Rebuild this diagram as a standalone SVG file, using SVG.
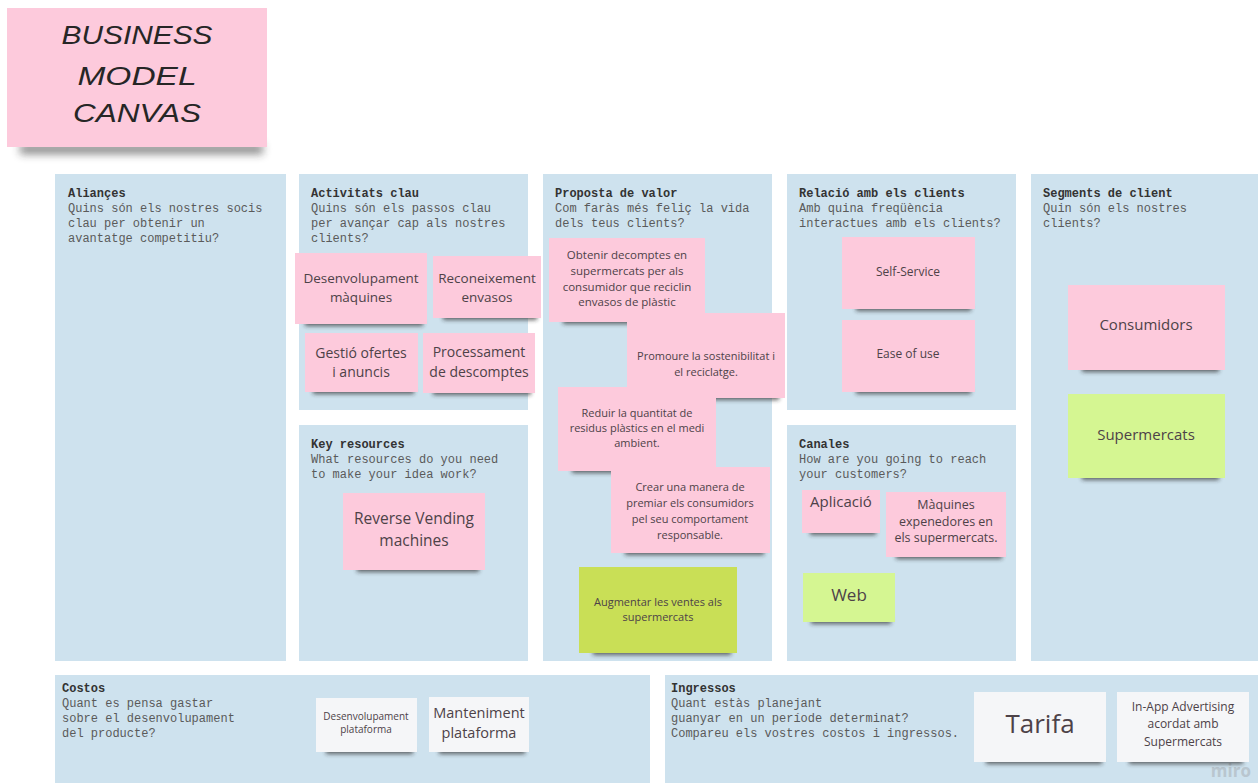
<svg xmlns="http://www.w3.org/2000/svg" width="1258" height="783" viewBox="0 0 1258 783">
<defs>
<filter id="blur" x="-20%" y="-200%" width="140%" height="500%"><feGaussianBlur stdDeviation="2"/></filter>
<filter id="blur2" x="-20%" y="-200%" width="140%" height="500%"><feGaussianBlur stdDeviation="4"/></filter>
</defs>
<style>
.panel{fill:#cee2ee}
.ph{font-family:"Liberation Mono","DejaVu Sans Mono",monospace;font-size:12px;font-weight:bold;fill:#333}
.pd{font-family:"Liberation Mono","DejaVu Sans Mono",monospace;font-size:12px;fill:#5a5a5a}
.sh{fill:#2b2b2b;opacity:.7;filter:url(#blur)}
.pink{fill:#fdcadc}
.green{fill:#d5f692}
.olive{fill:#c9df56}
.white{fill:#f5f6f8}
.st{font-family:"Open Sans","Noto Sans","Liberation Sans",sans-serif;fill:#4d4248;text-anchor:middle}
.title{font-family:"Liberation Sans",sans-serif;font-style:italic;font-size:25px;fill:#262626;text-anchor:middle}
</style>
<rect width="1258" height="783" fill="#ffffff"/>

<g id="title">
<rect x="20" y="144" width="243" height="10" fill="#2b2b2b" opacity=".55" filter="url(#blur2)"/>
<rect x="7" y="8" width="260" height="139" class="pink"/>
<text class="title" x="137" y="44" textLength="151" lengthAdjust="spacingAndGlyphs">BUSINESS</text>
<text class="title" x="137" y="85" textLength="119" lengthAdjust="spacingAndGlyphs">MODEL</text>
<text class="title" x="137" y="122" textLength="128" lengthAdjust="spacingAndGlyphs">CANVAS</text>
</g>

<g id="panel-aliances">
<rect class="panel" x="55" y="174" width="231" height="487"/>
<text class="ph" x="68" y="197">Aliançes</text>
<text class="pd" x="68" y="212">Quins són els nostres socis</text>
<text class="pd" x="68" y="227">clau per obtenir un</text>
<text class="pd" x="68" y="242">avantatge competitiu?</text>
</g>

<g id="panel-activitats">
<rect class="panel" x="299" y="174" width="229" height="236"/>
<text class="ph" x="311" y="197">Activitats clau</text>
<text class="pd" x="311" y="212">Quins són els passos clau</text>
<text class="pd" x="311" y="227">per avançar cap als nostres</text>
<text class="pd" x="311" y="242">clients?</text>
</g>

<g id="panel-resources">
<rect class="panel" x="299" y="425" width="229" height="236"/>
<text class="ph" x="311" y="448">Key resources</text>
<text class="pd" x="311" y="463">What resources do you need</text>
<text class="pd" x="311" y="478">to make your idea work?</text>
</g>

<g id="panel-proposta">
<rect class="panel" x="543" y="174" width="229" height="487"/>
<text class="ph" x="555" y="197">Proposta de valor</text>
<text class="pd" x="555" y="212">Com faràs més feliç la vida</text>
<text class="pd" x="555" y="227">dels teus clients?</text>
</g>

<g id="panel-relacio">
<rect class="panel" x="787" y="174" width="229" height="236"/>
<text class="ph" x="799" y="197">Relació amb els clients</text>
<text class="pd" x="799" y="212">Amb quina freqüència</text>
<text class="pd" x="799" y="227">interactues amb els clients?</text>
</g>

<g id="panel-canales">
<rect class="panel" x="787" y="425" width="229" height="236"/>
<text class="ph" x="799" y="448">Canales</text>
<text class="pd" x="799" y="463">How are you going to reach</text>
<text class="pd" x="799" y="478">your customers?</text>
</g>

<g id="panel-segments">
<rect class="panel" x="1031" y="174" width="227" height="487"/>
<text class="ph" x="1043" y="197">Segments de client</text>
<text class="pd" x="1043" y="212">Quin són els nostres</text>
<text class="pd" x="1043" y="227">clients?</text>
</g>

<g id="panel-costos">
<rect class="panel" x="55" y="675" width="595" height="108"/>
<text class="ph" x="62" y="692">Costos</text>
<text class="pd" x="62" y="707">Quant es pensa gastar</text>
<text class="pd" x="62" y="722">sobre el desenvolupament</text>
<text class="pd" x="62" y="737">del producte?</text>
</g>

<g id="panel-ingressos">
<rect class="panel" x="665" y="675" width="593" height="108"/>
<text class="ph" x="671" y="692">Ingressos</text>
<text class="pd" x="671" y="707">Quant estàs planejant</text>
<text class="pd" x="671" y="722">guanyar en un període determinat?</text>
<text class="pd" x="671" y="737">Compareu els vostres costos i ingressos.</text>
<text x="1251" y="777" text-anchor="end" font-family="'Open Sans','Liberation Sans',sans-serif" font-size="17" font-weight="bold" fill="#b9c6cf">miro</text>
</g>

<g id="n-desenvolupament-maquines">
<rect class="sh" x="305" y="319" width="118" height="7"/>
<rect class="pink" x="295" y="253" width="132" height="71"/>
<text class="st" font-size="13.5" x="361" y="283">Desenvolupament</text>
<text class="st" font-size="13.5" x="361" y="302">màquines</text>
</g>

<g id="n-reconeixement">
<rect class="sh" x="443" y="313" width="94" height="7"/>
<rect class="pink" x="433" y="256" width="108" height="62"/>
<text class="st" font-size="13.5" x="487" y="283">Reconeixement</text>
<text class="st" font-size="13.5" x="487" y="302">envasos</text>
</g>

<g id="n-gestio">
<rect class="sh" x="313" y="387" width="101" height="7"/>
<rect class="pink" x="305" y="333" width="113" height="59"/>
<text class="st" font-size="14" x="361" y="358">Gestió ofertes</text>
<text class="st" font-size="14" x="361" y="377">i anuncis</text>
</g>

<g id="n-processament">
<rect class="sh" x="433" y="388" width="98" height="7"/>
<rect class="pink" x="423" y="333" width="112" height="60"/>
<text class="st" font-size="14" x="479" y="357">Processament</text>
<text class="st" font-size="14" x="479" y="377">de descomptes</text>
</g>

<g id="n-obtenir">
<rect class="sh" x="563" y="317" width="136" height="7"/>
<rect class="pink" x="549" y="238" width="156" height="84"/>
<text class="st" font-size="11.5" x="627" y="259">Obtenir decomptes en</text>
<text class="st" font-size="11.5" x="627" y="275">supermercats per als</text>
<text class="st" font-size="11.5" x="627" y="291">consumidor que reciclin</text>
<text class="st" font-size="11.5" x="627" y="306">envasos de plàstic</text>
</g>

<g id="n-promoure">
<rect class="sh" x="641" y="393" width="138" height="7"/>
<rect class="pink" x="627" y="313" width="158" height="85"/>
<text class="st" font-size="11" x="706" y="360">Promoure la sostenibilitat i</text>
<text class="st" font-size="11" x="706" y="376">el reciclatge.</text>
</g>

<g id="n-reduir">
<rect class="sh" x="572" y="466" width="138" height="7"/>
<rect class="pink" x="558" y="387" width="158" height="84"/>
<text class="st" font-size="11" x="637" y="417">Reduir la quantitat de</text>
<text class="st" font-size="11" x="637" y="432">residus plàstics en el medi</text>
<text class="st" font-size="11" x="637" y="447">ambient.</text>
</g>

<g id="n-crear">
<rect class="sh" x="625" y="548" width="139" height="7"/>
<rect class="pink" x="611" y="467" width="159" height="86"/>
<text class="st" font-size="11" x="690" y="491">Crear una manera de</text>
<text class="st" font-size="11" x="690" y="507">premiar els consumidors</text>
<text class="st" font-size="11" x="690" y="523">pel seu comportament</text>
<text class="st" font-size="11" x="690" y="539">responsable.</text>
</g>

<g id="n-augmentar">
<rect class="sh" x="593" y="648" width="138" height="7"/>
<rect class="olive" x="579" y="567" width="158" height="86"/>
<text class="st" font-size="11" x="658" y="606">Augmentar les ventes als</text>
<text class="st" font-size="11" x="658" y="621">supermercats</text>
</g>

<g id="n-self-service">
<rect class="sh" x="856" y="304" width="115" height="7"/>
<rect class="pink" x="842" y="237" width="133" height="72"/>
<text class="st" font-size="12" x="908" y="276">Self-Service</text>
</g>

<g id="n-ease">
<rect class="sh" x="856" y="387" width="115" height="7"/>
<rect class="pink" x="842" y="320" width="133" height="72"/>
<text class="st" font-size="12" x="908" y="358">Ease of use</text>
</g>

<g id="n-consumidors">
<rect class="sh" x="1082" y="365" width="137" height="7"/>
<rect class="pink" x="1068" y="285" width="157" height="85"/>
<text class="st" font-size="15" x="1146" y="330">Consumidors</text>
</g>

<g id="n-supermercats">
<rect class="sh" x="1082" y="473" width="137" height="7"/>
<rect class="green" x="1068" y="394" width="157" height="84"/>
<text class="st" font-size="15" x="1146" y="440" fill="#3f4a37">Supermercats</text>
</g>

<g id="n-reverse">
<rect class="sh" x="357" y="565" width="122" height="7"/>
<rect class="pink" x="343" y="493" width="142" height="77"/>
<text class="st" font-size="15.5" x="414" y="524">Reverse Vending</text>
<text class="st" font-size="15.5" x="414" y="546">machines</text>
</g>

<g id="n-aplicacio">
<rect class="sh" x="810" y="528" width="66" height="7"/>
<rect class="pink" x="802" y="490" width="78" height="43"/>
<text class="st" font-size="15" x="841" y="507">Aplicació</text>
</g>

<g id="n-maquines">
<rect class="sh" x="896" y="552" width="106" height="7"/>
<rect class="pink" x="886" y="492" width="120" height="65"/>
<text class="st" font-size="12.5" x="946" y="509">Màquines</text>
<text class="st" font-size="12.5" x="946" y="526">expenedores en</text>
<text class="st" font-size="12.5" x="946" y="542">els supermercats.</text>
</g>

<g id="n-web">
<rect class="sh" x="811" y="617" width="80" height="7"/>
<rect class="green" x="803" y="573" width="92" height="49"/>
<text class="st" font-size="17" x="849" y="601" fill="#3f4a37">Web</text>
</g>

<g id="n-desenv-plataforma">
<rect class="sh" x="326" y="747" width="87" height="7"/>
<rect class="white" x="316" y="698" width="101" height="54"/>
<text class="st" font-size="10" x="366" y="720">Desenvolupament</text>
<text class="st" font-size="10" x="366" y="733">plataforma</text>
</g>

<g id="n-manteniment">
<rect class="sh" x="439" y="747" width="86" height="7"/>
<rect class="white" x="429" y="697" width="100" height="55"/>
<text class="st" font-size="14.5" x="479" y="718">Manteniment</text>
<text class="st" font-size="14.5" x="479" y="738">plataforma</text>
</g>

<g id="n-tarifa">
<rect class="sh" x="986" y="757" width="116" height="7"/>
<rect class="white" x="974" y="692" width="132" height="70"/>
<text class="st" font-size="26" x="1040" y="733" fill="#333">Tarifa</text>
</g>

<g id="n-inapp">
<rect class="sh" x="1129" y="757" width="114" height="7"/>
<rect class="white" x="1117" y="692" width="132" height="70"/>
<text class="st" font-size="12" x="1183" y="711">In-App Advertising</text>
<text class="st" font-size="12" x="1183" y="728">acordat amb</text>
<text class="st" font-size="12" x="1183" y="746">Supermercats</text>
</g>
</svg>
